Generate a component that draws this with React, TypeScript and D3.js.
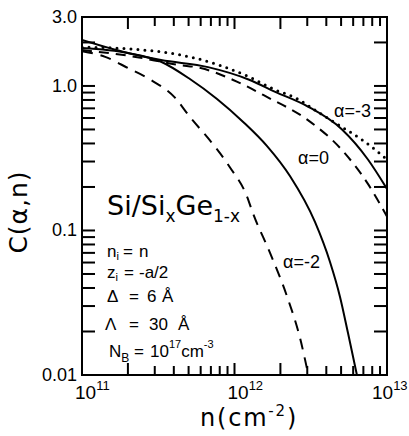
import React from 'react';
import * as d3 from 'd3';

const W = 409;
const H = 436;
const PLOT = { left: 82, right: 387, top: 17, bottom: 375 };

const yTickValues = [0.01, 0.1, 1.0, 3.0];
const yTickLabels = ['0.01', '0.1', '1.0', '3.0'];
const xTickValues = [1e11, 1e12, 1e13];
const xTickExponents = ['11', '12', '13'];

// alpha = -3 (dotted)
const nAlphaM3 = [1.0e11, 2.1e11, 3.3e11, 5.5e11, 1.26e12, 1.85e12, 2.5e12, 3.37e12, 5.07e12, 7.18e12, 1.0e13];
const cAlphaM3 = [1.86, 1.8, 1.72, 1.56, 1.15, 0.94, 0.83, 0.68, 0.52, 0.41, 0.31];

// alpha = 0 (solid)
const nAlpha0Solid = [1.0e11, 2.0e11, 3.3e11, 6.7e11, 1.26e12, 1.85e12, 3.03e12, 5.07e12, 7.5e12, 1.0e13];
const cAlpha0Solid = [2.08, 1.69, 1.51, 1.35, 1.1, 0.91, 0.72, 0.5, 0.31, 0.194];

// alpha = 0 (dashed)
const nAlpha0Dashed = [1.0e11, 2.0e11, 4.3e11, 6.0e11, 9.8e11, 1.63e12, 3.03e12, 5.07e12, 7.5e12, 1.0e13];
const cAlpha0Dashed = [1.77, 1.62, 1.4, 1.33, 1.1, 0.84, 0.58, 0.36, 0.21, 0.125];

// alpha = -2 (solid)
const nAlphaM2Solid = [1.0e11, 2.0e11, 3.3e11, 5.1e11, 7.68e11, 1.14e12, 1.63e12, 2.31e12, 3.37e12, 4.23e12, 4.92e12, 5.55e12, 6.35e12];
const cAlphaM2Solid = [1.83, 1.69, 1.47, 1.117, 0.813, 0.564, 0.385, 0.238, 0.1145, 0.0605, 0.0347, 0.0195, 0.01];

// alpha = -2 (dashed)
const nAlphaM2Dashed = [1.0e11, 1.42e11, 2.0e11, 2.83e11, 4.07e11, 5.1e11, 6.9e11, 9.3e11, 1.21e12, 1.32e12, 1.71e12, 2.21e12, 2.69e12, 3.05e12];
const cAlphaM2Dashed = [1.74, 1.59, 1.33, 1.1, 0.83, 0.61, 0.42, 0.275, 0.171, 0.132, 0.07, 0.035, 0.018, 0.01];

const zip = (ns: number[], cs: number[]) => ns.map((n, i) => [n, cs[i]] as [number, number]);

export default function App() {
  const x = d3.scaleLog().domain([1e11, 1e13]).range([PLOT.left, PLOT.right]);
  const y = d3.scaleLog().domain([0.01, 3]).range([PLOT.bottom, PLOT.top]);

  const line = d3
    .line<[number, number]>()
    .x((d) => x(d[0]))
    .y((d) => y(d[1]))
    .curve(d3.curveMonotoneX);

  const series = [
    { data: zip(nAlphaM3, cAlphaM3), dash: '0 7', width: 3, cap: 'round' },
    { data: zip(nAlpha0Solid, cAlpha0Solid), dash: undefined, width: 2, cap: 'butt' },
    { data: zip(nAlpha0Dashed, cAlpha0Dashed), dash: '10 7', width: 2, cap: 'butt' },
    { data: zip(nAlphaM2Solid, cAlphaM2Solid), dash: undefined, width: 2, cap: 'butt' },
    { data: zip(nAlphaM2Dashed, cAlphaM2Dashed), dash: '11 8', width: 2, cap: 'butt' },
  ];

  const xTicksAll = x.ticks(20).filter((v) => v > 1.01e11 && v < 0.99e13);
  const yTicksAll = y.ticks(30).filter((v) => v > 0.0101 && v < 2.99);

  const font = "'Liberation Sans', Arial, sans-serif";
  const wide = "'DejaVu Sans', sans-serif";

  return (
    <svg width={W} height={H} style={{ position: 'absolute', left: 0, top: 0, background: '#fff' }}>
      <defs>
        <clipPath id="plotclip">
          <rect x={PLOT.left} y={PLOT.top} width={PLOT.right - PLOT.left} height={PLOT.bottom - PLOT.top} />
        </clipPath>
      </defs>
      <rect x={0} y={0} width={W} height={H} fill="#fff" />

      <rect
        x={PLOT.left}
        y={PLOT.top}
        width={PLOT.right - PLOT.left}
        height={PLOT.bottom - PLOT.top}
        fill="none"
        stroke="#000"
        strokeWidth={2}
      />

      <g clipPath="url(#plotclip)">
        {series.map((s, i) => (
          <path
            key={'s' + i}
            d={line(s.data) || ''}
            fill="none"
            stroke="#000"
            strokeWidth={s.width}
            strokeDasharray={s.dash}
            strokeLinecap={s.cap as any}
          />
        ))}
      </g>

      {xTicksAll.map((v, i) => {
        const xx = x(v);
        const lead = Math.round(v / Math.pow(10, Math.floor(Math.log10(v) + 1e-9)));
        const len = lead <= 2 ? 12 : 9;
        return (
          <g key={'xt' + i}>
            <rect x={xx - 1} y={PLOT.bottom - len} width={2} height={len} fill="#000" />
            <rect x={xx - 1} y={PLOT.top} width={2} height={len} fill="#000" />
          </g>
        );
      })}
      {yTicksAll.map((v, i) => {
        const yy = y(v);
        return (
          <g key={'yt' + i}>
            <rect x={PLOT.left} y={yy - 1} width={13} height={2} fill="#000" />
            <rect x={PLOT.right - 13} y={yy - 1} width={13} height={2} fill="#000" />
          </g>
        );
      })}

      {yTickValues.map((v, i) => (
        <text key={'yl' + i} x={PLOT.left - 5} y={y(v) + 6} textAnchor="end" fontFamily={font} fontSize={18}>
          {yTickLabels[i]}
        </text>
      ))}

      {xTickValues.map((v, i) => {
        const xx = Math.min(x(v) - 7, W - 37);
        return (
          <text key={'xl' + i} x={xx} y={399} fontFamily={font} fontSize={19}>
            10
            <tspan dy={-9} fontSize={13}>
              {xTickExponents[i]}
            </tspan>
          </text>
        );
      })}

      <text transform="translate(27,212) rotate(-90)" textAnchor="middle" fontFamily={wide} fontSize={25} letterSpacing={1}>
        C(α,n)
      </text>
      <text x={200} y={426} fontFamily={wide} fontSize={24} letterSpacing={1.8}>
        n(cm
        <tspan dy={-10} fontSize={15}>-2</tspan>
        <tspan dy={10}>)</tspan>
      </text>

      <text x={334} y={117} fontFamily={font} fontSize={18}>α=-3</text>
      <text x={298} y={164} fontFamily={font} fontSize={18}>α=0</text>
      <text x={283} y={268} fontFamily={font} fontSize={18}>α=-2</text>

      <text x={107} y={215} fontFamily={wide} fontSize={27}>
        Si/Si
        <tspan dy={7} fontSize={17}>x</tspan>
        <tspan dy={-7}>Ge</tspan>
        <tspan dy={7} fontSize={17}>1-x</tspan>
      </text>
      <g fontFamily={font} fontSize={17}>
        <text x={107} y={257}>
          n<tspan dy={3} fontSize={11}>i</tspan>
          <tspan x={123} dy={-3}>=</tspan>
          <tspan x={139}>n</tspan>
        </text>
        <text x={107} y={278}>
          z<tspan dy={3} fontSize={11}>i</tspan>
          <tspan x={124} dy={-3}>=</tspan>
          <tspan x={139}>-a/2</tspan>
        </text>
        <text x={107} y={302}>
          Δ<tspan x={129}>=</tspan>
          <tspan x={147}>6</tspan>
          <tspan x={162}>Å</tspan>
        </text>
        <text x={105} y={330}>
          Λ<tspan x={129}>=</tspan>
          <tspan x={149}>30</tspan>
          <tspan x={178}>Å</tspan>
        </text>
        <text x={109} y={357}>
          N<tspan dy={5} fontSize={12}>B</tspan>
          <tspan x={134} dy={-5}>=</tspan>
          <tspan x={150}>10</tspan>
          <tspan dy={-9} fontSize={11}>17</tspan>
          <tspan dy={9}>cm</tspan>
          <tspan dy={-9} fontSize={11}>-3</tspan>
        </text>
      </g>
    </svg>
  );
}
